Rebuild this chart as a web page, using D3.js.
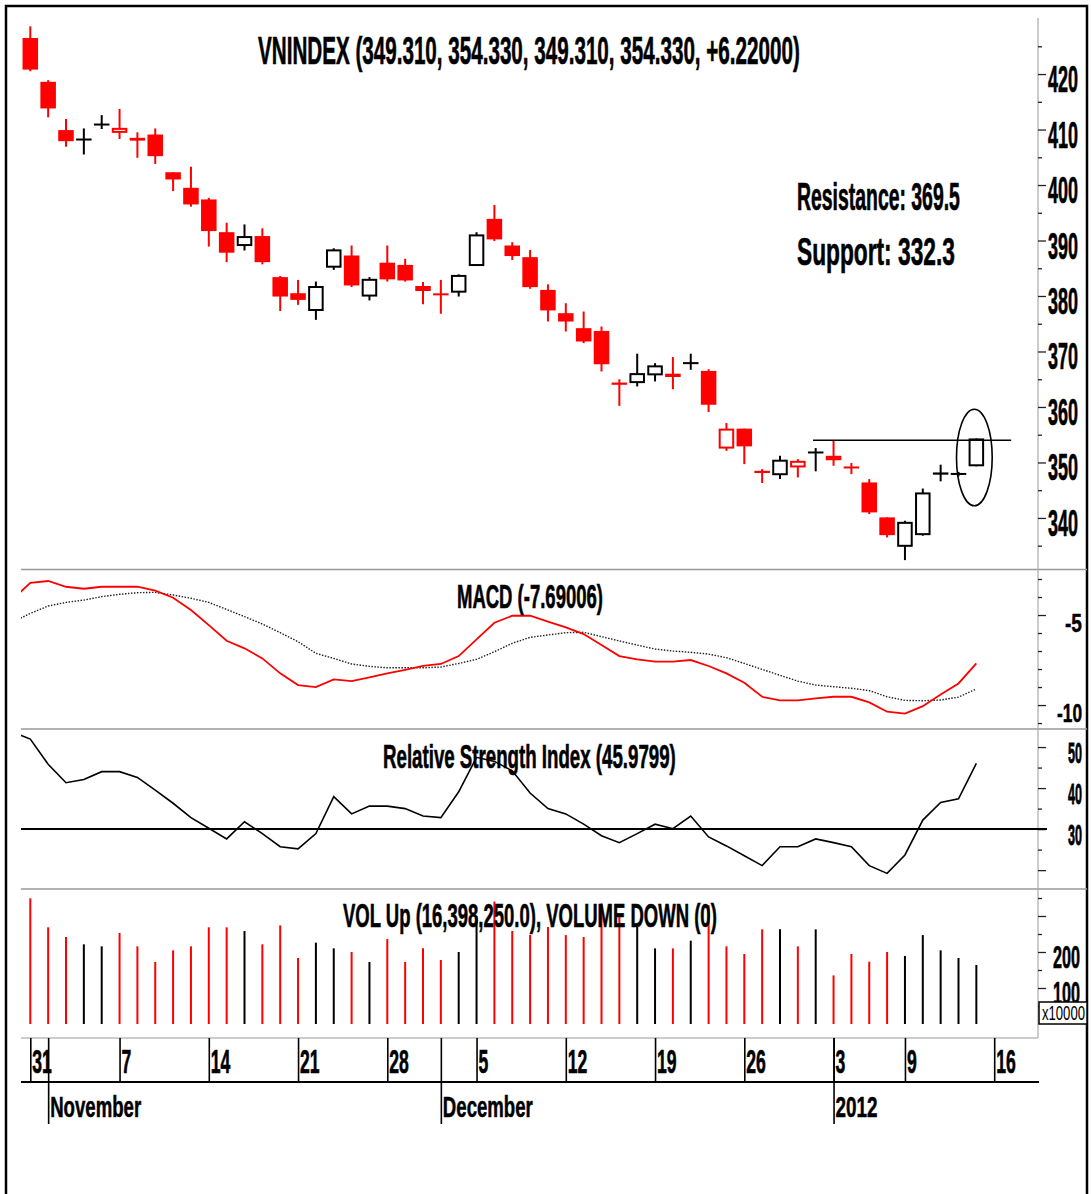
<!DOCTYPE html>
<html><head><meta charset="utf-8">
<script src="https://cdn.jsdelivr.net/npm/d3@7"></script>
<style>
body{margin:0;background:#fff}
text{font-family:"Liberation Sans Narrow","Liberation Sans",Arial,sans-serif;font-weight:bold;fill:#000}
</style>
</head><body><script>
// ---------------- DATA ----------------
const dates = [
 "2011-10-31","2011-11-01","2011-11-02","2011-11-03","2011-11-04",
 "2011-11-07","2011-11-08","2011-11-09","2011-11-10","2011-11-11",
 "2011-11-14","2011-11-15","2011-11-16","2011-11-17","2011-11-18",
 "2011-11-21","2011-11-22","2011-11-23","2011-11-24","2011-11-25",
 "2011-11-28","2011-11-29","2011-11-30","2011-12-01","2011-12-02",
 "2011-12-05","2011-12-06","2011-12-07","2011-12-08","2011-12-09",
 "2011-12-12","2011-12-13","2011-12-14","2011-12-15","2011-12-16",
 "2011-12-19","2011-12-20","2011-12-21","2011-12-22","2011-12-23",
 "2011-12-26","2011-12-27","2011-12-28","2011-12-29","2011-12-30",
 "2012-01-03","2012-01-04","2012-01-05","2012-01-06",
 "2012-01-09","2012-01-10","2012-01-11","2012-01-12","2012-01-13"];
const futureDates = ["2012-01-16"];
const prevClose = 424.5; // close of 2011-10-28

const openP  = [426.5,418.6,409.9,408.2,410.9,409.4,408.0,409.1,402.3,399.5,
 397.4,391.5,389.0,390.8,383.4,380.5,377.3,385.1,387.3,379.9,
 386.0,385.6,381.8,380.3,380.6,385.4,393.9,389.1,387.0,381.1,
 376.9,374.2,373.7,364.4,364.3,365.7,365.4,367.9,366.5,352.5,
 356.1,348.5,347.7,349.1,351.8,351.2,349.1,346.4,340.1,334.8,
 336.9,348.2,347.75,349.31];
const highP  = [428.6,418.9,411.9,410.2,412.6,413.7,409.5,410.2,402.3,403.3,
 397.7,393.2,392.9,392.2,383.6,382.9,382.6,388.6,389.1,383.4,
 389.1,386.7,382.5,382.9,383.9,391.5,396.4,389.7,388.3,382.1,
 378.7,377.2,374.5,365.0,369.6,367.9,369.0,369.6,366.8,357.1,
 356.1,348.8,351.2,350.6,352.6,353.9,349.9,347.0,340.1,339.5,
 345.3,349.6,348.3,354.33];
const lowP   = [420.5,412.2,406.9,405.5,410.1,408.3,404.9,403.8,398.9,396.1,
 388.9,386.1,388.2,385.7,377.3,378.4,375.7,384.7,381.6,379.2,
 382.6,382.6,378.5,376.8,379.9,385.4,389.9,386.5,381.3,375.4,
 373.6,371.5,366.4,360.2,363.7,364.6,363.2,366.7,359.1,352.1,
 349.7,346.3,347.0,347.3,348.4,349.4,347.9,340.7,336.5,332.4,
 336.8,346.6,347.5,349.31];
const closeP = [420.8,413.8,407.9,408.2,410.9,410.3,408.5,405.2,401.0,396.5,
 391.7,387.8,390.8,386.1,379.9,379.3,381.8,388.4,381.9,383.1,
 383.0,382.8,380.9,380.3,383.8,391.1,390.2,387.2,381.6,377.4,
 375.4,371.8,367.7,364.0,366.1,367.5,366.0,367.9,360.4,356.1,
 352.9,348.1,350.5,350.3,351.8,350.4,349.1,341.0,336.9,339.3,
 344.6,347.8,348.11,354.33];
// volume, x10000
const volume = [349,268.6,241.7,221.3,215.7,252.8,215.7,172.2,204.6,215.7,
 268.6,268.6,258.3,221.3,274,183.3,225.9,210.2,200,172.2,
 236,172.2,210.2,177.8,200,300,340,258.3,247,269.4,
 247,241.7,335,300,270,210,210,231.5,330,215.7,
 194.4,263,263,215.7,263,135,194.4,173,200,189,
 247,204.6,183.3,164];
// indicator series start at 2011-10-28 (one session before the first candle)
const macd = [-4.13,-3.21,-3.11,-3.43,-3.54,-3.43,-3.43,-3.43,-3.65,-4.04,-4.72,
 -5.56,-6.43,-6.85,-7.41,-8.24,-8.89,-9.0,-8.57,-8.67,-8.46,
 -8.24,-8.04,-7.83,-7.72,-7.28,-6.35,-5.43,-5.04,-5.04,-5.37,
 -5.69,-6.06,-6.67,-7.28,-7.46,-7.59,-7.59,-7.5,-7.83,-8.24,
 -8.76,-9.54,-9.74,-9.74,-9.63,-9.54,-9.54,-9.85,-10.37,-10.48,
 -10.06,-9.41,-8.80,-7.69];
const signal = [-5.39,-4.91,-4.5,-4.30,-4.17,-3.98,-3.85,-3.76,-3.74,-3.89,-4.07,
 -4.30,-4.69,-5.09,-5.5,-5.98,-6.48,-7.13,-7.41,-7.72,-7.85,
 -7.93,-7.93,-7.93,-7.89,-7.69,-7.46,-7.04,-6.57,-6.24,-6.11,
 -5.98,-5.96,-6.2,-6.44,-6.67,-6.89,-7.0,-7.07,-7.17,-7.37,
 -7.69,-8.02,-8.35,-8.67,-8.89,-8.98,-9.07,-9.2,-9.54,-9.74,
 -9.76,-9.72,-9.56,-9.11];
const rsi = [53.65,51.95,45.8,41.3,42.1,44.0,44.0,42.6,39.5,36.3,32.8,
 30.2,27.6,31.8,28.9,25.7,25.2,28.9,37.9,33.7,35.6,
 35.6,35.0,33.2,32.8,39.1,47.5,46.5,44.2,38.8,35.0,
 33.7,31.2,28.4,26.7,28.9,31.2,30.1,33.2,28.1,25.9,
 23.5,21.1,25.7,25.7,27.6,26.7,25.7,21.1,19.2,23.7,
 32.2,36.5,37.4,46.0];

const tickDates  = ["2011-10-31","2011-11-07","2011-11-14","2011-11-21","2011-11-28","2011-12-05",
                    "2011-12-12","2011-12-19","2011-12-26","2012-01-03","2012-01-09","2012-01-16"];
const tickLabels = ["31","7","14","21","28","5","12","19","26","3","9","16"];
const monthDates  = ["2011-11-01","2011-12-01","2012-01-03"];
const monthLabels = ["November","December","2012"];

const priceTicks = [335,340,345,350,355,360,365,370,375,380,385,390,395,400,405,410,415,420,425];
const priceLabels = [340,350,360,370,380,390,400,410,420];
const macdTicks = [-11,-10,-9,-8,-7,-6,-5,-4,-3];
const macdLabels = [-5,-10];
const rsiTicks = [20,25,30,35,40,45,50];
const rsiLabels = [50,40,30];
const volTicks = [50,100,150,200,250,300,350];
const volLabels = [200,100];

const titleMain = "VNINDEX (349.310, 354.330, 349.310, 354.330, +6.22000)";
const resistanceText = "Resistance: 369.5";
const supportText = "Support: 332.3";
const macdTitle = "MACD (-7.69006)";
const rsiTitle = "Relative Strength Index (45.9799)";
const volTitle = "VOL Up (16,398,250.0), VOLUME DOWN (0)";
const resistanceLevel = 354.0;
const rsiLevel = 30;

// ---------------- LAYOUT ----------------
const W = 1091, H = 1194;
const L = 21, R = 1038;
const calendar = dates.concat(futureDates);
const slot = d => calendar.indexOf(d);
const x = d3.scaleLinear().domain([0, 54]).range([30.3, 994.2]);
const step = x(1) - x(0);
const yP = d3.scaleLinear().domain([330.8, 430.1]).range([569, 18]);
const yM = d3.scaleLinear().domain([-11.33, -2.5]).range([729, 570]);
const yR = d3.scaleLinear().domain([15.4, 54.4]).range([889, 729]);
const yV = d3.scaleLinear().domain([-38.9, 375]).range([1038, 889]);

const svg = d3.select("body").append("svg").attr("width", W).attr("height", H);
const defs = svg.append("defs");
function clip(id, y0, y1){
  defs.append("clipPath").attr("id", id).append("rect")
    .attr("x", L).attr("y", y0).attr("width", R - L).attr("height", y1 - y0);
  return "url(#" + id + ")";
}
// condensed, vertically stretched text: width = len, cap height ~ 0.72*size
function label(g, str, x0, yb, size, len, weight){
  const t = g.append("text").attr("x", 0).attr("y", 0).attr("font-size", 10)
    .style("font-weight", weight || "bold").text(str);
  const w = t.node().getComputedTextLength() || (str.length * 5);
  const fs = 10 * len / w;
  t.attr("font-size", fs)
   .attr("transform", `translate(${x0},${yb}) scale(1,${(size / fs).toFixed(4)})`);
  if ((weight || "bold") === "bold")
    t.attr("stroke", "#000").attr("stroke-width", 0.35);
  return t;
}

// frame
svg.append("rect").attr("x", 6).attr("y", 6).attr("width", 1081).attr("height", 1200)
  .attr("fill", "none").attr("stroke", "#000").attr("stroke-width", 2.5);

// panel separators
[569.5, 729, 889].forEach(yy => svg.append("line").attr("x1", L).attr("x2", 1087)
  .attr("y1", yy).attr("y2", yy).attr("stroke", "#999").attr("stroke-width", 1.5));
svg.append("line").attr("x1", L).attr("x2", R).attr("y1", 1038).attr("y2", 1038)
  .attr("stroke", "#bbb").attr("stroke-width", 1.5);
// right axis line
svg.append("line").attr("x1", R).attr("x2", R).attr("y1", 18).attr("y2", 1038)
  .attr("stroke", "#aaa").attr("stroke-width", 1.2);

// right axes ticks (major/minor)
function rightTicks(scale, values, majorTest){
  const g = svg.append("g").attr("transform", `translate(${R},0)`);
  g.call(d3.axisRight(scale).tickValues(values).tickSize(4).tickFormat(""));
  g.select(".domain").remove();
  g.selectAll(".tick line").attr("stroke", "#222").attr("stroke-width", 1.3)
    .attr("x2", d => majorTest(d) ? 8 : 4);
  return g;
}
rightTicks(yP, priceTicks, d => d % 10 === 0);
rightTicks(yM, macdTicks, d => d % 5 === 0);
rightTicks(yR, rsiTicks, d => d % 10 === 0);
rightTicks(yV, volTicks, d => d % 100 === 0);

const lab = svg.append("g");
priceLabels.forEach(v => label(lab, String(v), 1048, yP(v) + 18, 37, 30));
macdLabels.forEach(v => { const s = String(v); const len = s.length === 2 ? 17 : 25;
  label(lab, s, 1082 - len, yM(v) + 17, 26, len); });
rsiLabels.forEach(v => label(lab, String(v), 1068, yR(v) + 16, 30, 14));
volLabels.forEach(v => label(lab, String(v), 1053, yV(v) + 16, 31, 27));
lab.append("rect").attr("x", 1039).attr("y", 1002).attr("width", 48).attr("height", 22)
  .attr("fill", "#fff").attr("stroke", "#000").attr("stroke-width", 1.5);
label(lab, "x10000", 1042, 1020, 20, 43, "normal");

// ---------------- PRICE PANEL ----------------
const pg = svg.append("g").attr("clip-path", clip("cp", 18, 569));
const bw = step * 0.87;
dates.forEach((d, i) => {
  const o = openP[i], h = highP[i], l = lowP[i], c = closeP[i];
  const pc = i === 0 ? prevClose : closeP[i - 1];
  const col = c >= pc ? "#000" : "#ff0000";
  const cx = x(slot(d));
  pg.append("line").attr("x1", cx).attr("x2", cx).attr("y1", yP(h)).attr("y2", yP(l))
    .attr("stroke", col).attr("stroke-width", 2);
  const top = yP(Math.max(o, c)), bot = yP(Math.min(o, c));
  if (c > o && bot - top > 2.5) {
    pg.append("rect").attr("x", cx - bw / 2 + 1).attr("y", top + 1)
      .attr("width", bw - 2).attr("height", bot - top - 2)
      .attr("fill", "#fff").attr("stroke", col).attr("stroke-width", 2);
  } else {
    const hh = Math.max(2, bot - top);
    pg.append("rect").attr("x", cx - bw / 2).attr("y", (top + bot) / 2 - hh / 2)
      .attr("width", bw).attr("height", hh).attr("fill", col);
  }
});
// resistance line and ellipse annotation
pg.append("line").attr("x1", x(43.85)).attr("x2", x(54.95))
  .attr("y1", yP(resistanceLevel)).attr("y2", yP(resistanceLevel))
  .attr("stroke", "#000").attr("stroke-width", 1.5);
const lastI = dates.length - 1;
svg.append("ellipse").attr("cx", x(lastI) - 2).attr("cy", yP(350.9))
  .attr("rx", step * 1.0).attr("ry", yP(342.2) - yP(350.9))
  .attr("fill", "none").attr("stroke", "#000").attr("stroke-width", 1.6);

label(svg, titleMain, 258, 64, 38, 542);
label(svg, resistanceText, 797, 210, 38, 163);
label(svg, supportText, 797, 265, 38, 158);

// ---------------- MACD ----------------
const ind = (arr) => arr.map((v, k) => [x(k - 1), v]);
const mg = svg.append("g").attr("clip-path", clip("cm", 570, 729));
mg.append("path").datum(ind(signal))
  .attr("d", d3.line().x(d => d[0]).y(d => yM(d[1])))
  .attr("fill", "none").attr("stroke", "#222").attr("stroke-width", 1.4).attr("stroke-dasharray", "1.5,1.5");
mg.append("path").datum(ind(macd))
  .attr("d", d3.line().x(d => d[0]).y(d => yM(d[1])))
  .attr("fill", "none").attr("stroke", "#ff0000").attr("stroke-width", 1.8);
label(svg, macdTitle, 457, 608, 34, 146);

// ---------------- RSI ----------------
svg.append("line").attr("x1", L).attr("x2", 1047).attr("y1", yR(rsiLevel)).attr("y2", yR(rsiLevel))
  .attr("stroke", "#000").attr("stroke-width", 2);
const rg = svg.append("g").attr("clip-path", clip("cr", 729, 889));
rg.append("path").datum(ind(rsi))
  .attr("d", d3.line().x(d => d[0]).y(d => yR(d[1])))
  .attr("fill", "none").attr("stroke", "#000").attr("stroke-width", 1.6);
label(svg, rsiTitle, 383, 768, 34, 293);

// ---------------- VOLUME ----------------
const vg = svg.append("g");
dates.forEach((d, i) => {
  const pc = i === 0 ? prevClose : closeP[i - 1];
  const col = closeP[i] >= pc ? "#000" : "#ff0000";
  const cx = x(slot(d));
  vg.append("line").attr("x1", cx).attr("x2", cx).attr("y1", yV(0)).attr("y2", yV(volume[i]))
    .attr("stroke", col).attr("stroke-width", 2);
});
label(svg, volTitle, 343, 927, 34, 374);

// ---------------- DATE AXIS ----------------
const dg = svg.append("g").attr("transform", "translate(0,1038)");
dg.call(d3.axisBottom(x).tickValues(tickDates.map(slot)).tickSize(44).tickFormat(""));
dg.select(".domain").remove();
dg.selectAll(".tick line").attr("stroke", "#000").attr("stroke-width", 1.6);
const mgx = svg.append("g").attr("transform", "translate(0,1038)");
mgx.call(d3.axisBottom(x).tickValues(monthDates.map(slot)).tickSize(86).tickFormat(""));
mgx.select(".domain").remove();
mgx.selectAll(".tick line").attr("stroke", "#000").attr("stroke-width", 1.6);
svg.append("line").attr("x1", L).attr("x2", 1039).attr("y1", 1082).attr("y2", 1082)
  .attr("stroke", "#000").attr("stroke-width", 2);
tickDates.forEach((d, k) => {
  const s = tickLabels[k];
  label(svg, s, x(slot(d)) + 2, 1073, 34, s.length * 9.8);
});
const monthW = [91, 90, 42];
monthDates.forEach((d, k) => label(svg, monthLabels[k], x(slot(d)) + 2, 1117, 29, monthW[k]));
</script></body></html>
